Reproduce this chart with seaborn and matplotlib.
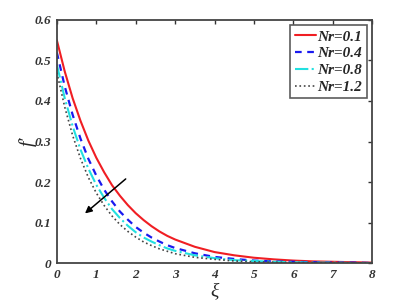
import matplotlib
matplotlib.use("Agg")
import matplotlib.pyplot as plt
import pandas as pd
import seaborn as sns

xi = [0, 0.2, 0.4, 0.6, 0.8, 1.0, 1.2, 1.4, 1.6, 1.8, 2.0, 2.2, 2.4, 2.6, 2.8, 3.0,
      3.5, 4.0, 4.5, 5.0, 5.5, 6.0, 6.5, 7.0, 7.5, 8.0]
f_nr01 = [0.550, 0.473, 0.407, 0.351, 0.302, 0.260, 0.224, 0.192, 0.166, 0.143, 0.123, 0.106, 0.091,
          0.078, 0.067, 0.058, 0.040, 0.027, 0.019, 0.013, 0.009, 0.006, 0.004, 0.003, 0.002, 0.001]
f_nr04 = [0.520, 0.436, 0.366, 0.307, 0.257, 0.216, 0.181, 0.152, 0.127, 0.107, 0.089, 0.075, 0.063,
          0.053, 0.044, 0.037, 0.024, 0.015, 0.010, 0.006, 0.004, 0.003, 0.002, 0.001, 0.001, 0.000]
f_nr08 = [0.490, 0.407, 0.338, 0.280, 0.233, 0.193, 0.161, 0.133, 0.111, 0.092, 0.076, 0.063, 0.053,
          0.044, 0.036, 0.030, 0.019, 0.012, 0.007, 0.005, 0.003, 0.002, 0.001, 0.001, 0.000, 0.000]
f_nr12 = [0.470, 0.385, 0.315, 0.258, 0.211, 0.173, 0.142, 0.116, 0.095, 0.078, 0.064, 0.052, 0.043,
          0.035, 0.029, 0.023, 0.014, 0.009, 0.005, 0.003, 0.002, 0.001, 0.001, 0.000, 0.000, 0.000]
labels = ["Nr=0.1", "Nr=0.4", "Nr=0.8", "Nr=1.2"]

sns.set_theme(style="white")
plt.rcParams["font.family"] = ["Liberation Serif", "DejaVu Serif"]

styles = [
    dict(color="#f01e23", linestyle="-", linewidth=1.5),
    dict(color="#1a1aef", linestyle=(0, (3, 2.5)), linewidth=1.6),
    dict(color="#22e0e0", linestyle="-.", linewidth=1.5),
    dict(color="#444444", linestyle=":", linewidth=1.2),
]

fig = plt.figure(figsize=(4.15, 3.03), dpi=100)
ax = fig.add_axes([0.137, 0.132, 0.760, 0.802])

for ys, lab, st in zip([f_nr01, f_nr04, f_nr08, f_nr12], labels, styles):
    df = pd.DataFrame({"xi": xi, "f": ys})
    sns.lineplot(data=df, x="xi", y="f", ax=ax, label=lab, **st)

ax.set_xlim(0, 8)
ax.set_ylim(0, 0.6)
ax.set_xticks(range(0, 9))
ax.set_yticks([0, 0.1, 0.2, 0.3, 0.4, 0.5, 0.6])
ax.set_yticklabels(["0", "0.1", "0.2", "0.3", "0.4", "0.5", "0.6"])
ax.tick_params(direction="in", top=True, right=True, length=3, width=1,
               colors="#333333", labelsize=9.5, pad=4)
for lbl in ax.get_xticklabels() + ax.get_yticklabels():
    lbl.set_fontstyle("italic")
    lbl.set_fontweight("bold")
    lbl.set_color("#333333")
for sp in ax.spines.values():
    sp.set_color("#444444")
    sp.set_linewidth(1.3)

ax.set_xlabel("ξ", fontsize=14, fontstyle="italic", labelpad=1)
ax.set_ylabel("f′", fontsize=14, fontstyle="italic")
ax.yaxis.set_label_coords(-0.065, 0.5)

ax.annotate("", xy=(0.66, 0.118), xytext=(1.80, 0.212),
            arrowprops=dict(arrowstyle="-|>", color="black", lw=1.1, mutation_scale=10))

leg = ax.legend(loc="upper right", frameon=True, fancybox=False, handlelength=1.4,
                handletextpad=0.1, borderpad=0.3, labelspacing=0.2, borderaxespad=0.35,
                prop=dict(family="Liberation Serif", style="italic", weight="bold", size=11))
leg.get_frame().set_edgecolor("#333333")
leg.get_frame().set_linewidth(1.2)

fig.savefig("out.png", dpi=100)
